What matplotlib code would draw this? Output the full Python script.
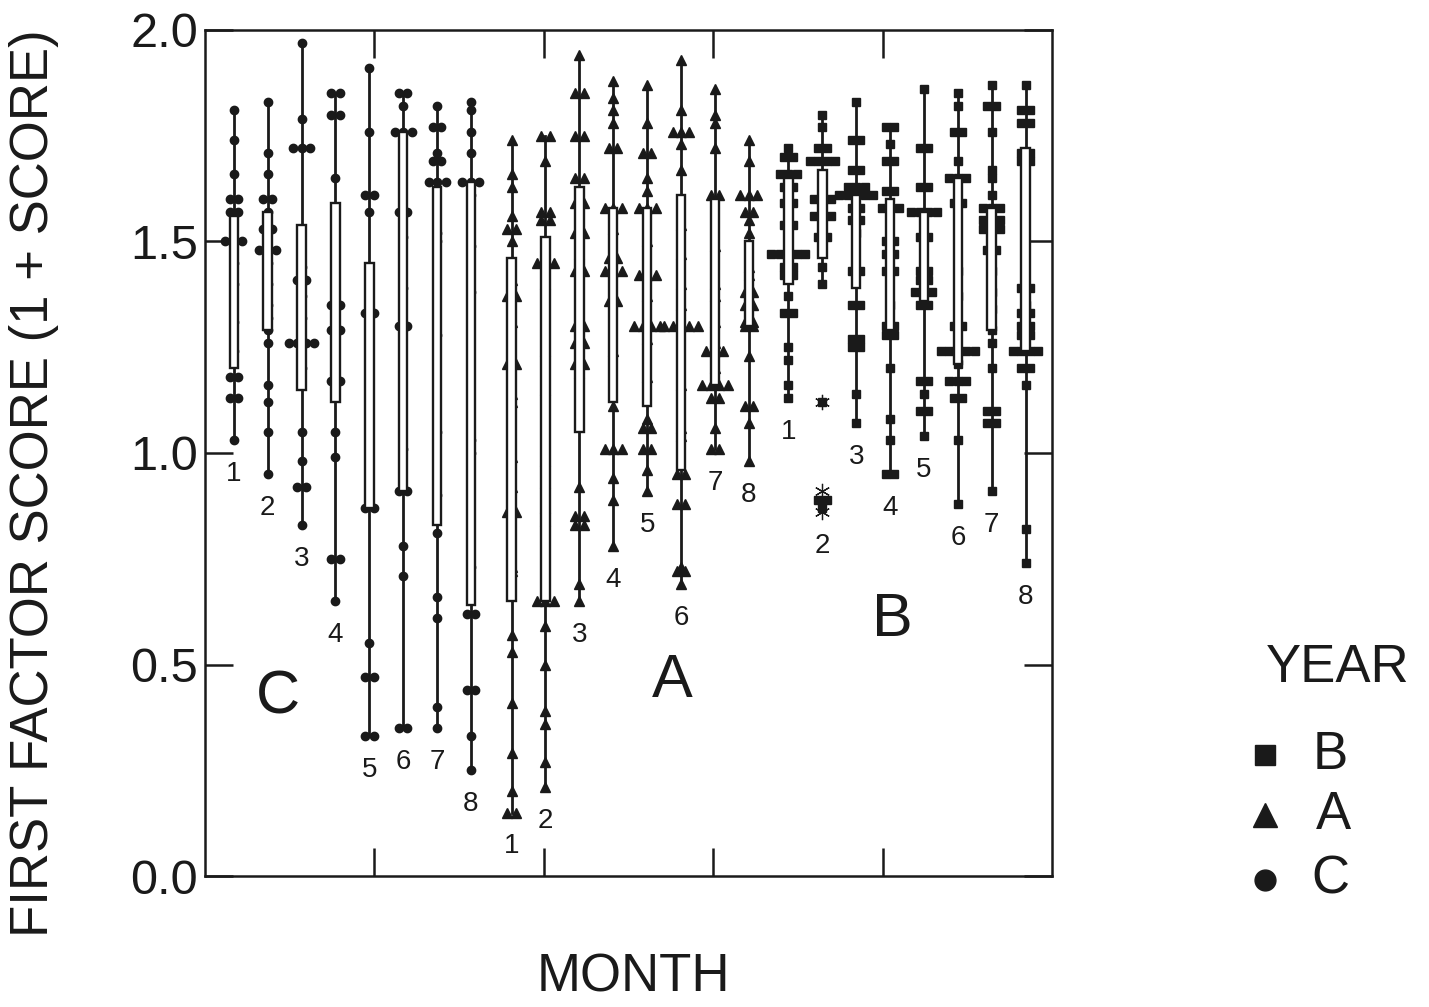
import numpy as np
import matplotlib
matplotlib.use('Agg')
import matplotlib.pyplot as plt
from matplotlib.lines import Line2D
from matplotlib.patches import Rectangle

plt.rcParams['font.family'] = ['Liberation Sans', 'DejaVu Sans']

# ---- data: first factor score (1 + score) per month, repeated values = side-by-side points ----
months = [1, 2, 3, 4, 5, 6, 7, 8]
years = ['C', 'A', 'B']

c_values = [
    [1.81, 1.74, 1.66, 1.60, 1.60, 1.57, 1.57, 1.50, 1.50, 1.50, 1.45, 1.40, 1.31, 1.24, 1.18, 1.18, 1.13, 1.13, 1.03],
    [1.83, 1.71, 1.66, 1.60, 1.60, 1.57, 1.53, 1.53, 1.48, 1.48, 1.48, 1.45, 1.40, 1.35, 1.32, 1.29, 1.26, 1.16, 1.12, 1.05, 0.95],
    [1.97, 1.79, 1.72, 1.72, 1.72, 1.44, 1.41, 1.41, 1.37, 1.32, 1.26, 1.26, 1.26, 1.26, 1.20, 1.05, 0.98, 0.92, 0.92, 0.83],
    [1.85, 1.85, 1.80, 1.80, 1.65, 1.50, 1.48, 1.35, 1.35, 1.29, 1.29, 1.25, 1.17, 1.17, 1.05, 0.99, 0.75, 0.75, 0.65],
    [1.91, 1.76, 1.61, 1.61, 1.57, 1.43, 1.40, 1.33, 1.33, 1.28, 1.20, 1.09, 1.06, 0.87, 0.87, 0.55, 0.47, 0.47, 0.33, 0.33],
    [1.85, 1.85, 1.82, 1.76, 1.76, 1.76, 1.57, 1.57, 1.51, 1.39, 1.30, 1.30, 1.01, 0.91, 0.91, 0.78, 0.71, 0.35, 0.35],
    [1.82, 1.77, 1.77, 1.71, 1.69, 1.69, 1.64, 1.64, 1.64, 1.52, 1.50, 1.28, 1.05, 0.90, 0.81, 0.66, 0.61, 0.40, 0.35],
    [1.83, 1.81, 1.76, 1.71, 1.64, 1.64, 1.64, 1.61, 1.49, 1.38, 1.03, 1.00, 0.73, 0.62, 0.62, 0.44, 0.44, 0.33, 0.25],
]
c_boxes = [(1.20, 1.56), (1.29, 1.57), (1.15, 1.54), (1.12, 1.59),
           (0.87, 1.45), (0.91, 1.76), (0.83, 1.63), (0.64, 1.64)]

a_values = [
    [1.74, 1.66, 1.63, 1.56, 1.53, 1.53, 1.50, 1.41, 1.37, 1.37, 1.31, 1.21, 1.21, 1.14, 1.12, 0.99, 0.92, 0.86, 0.86,
     0.73, 0.72, 0.57, 0.53, 0.41, 0.29, 0.20, 0.15, 0.15],
    [1.75, 1.75, 1.69, 1.57, 1.57, 1.55, 1.55, 1.45, 1.45, 1.45, 1.40, 1.24, 1.15, 0.98, 0.93, 0.87, 0.84, 0.65, 0.65,
     0.65, 0.59, 0.50, 0.39, 0.36, 0.27, 0.21],
    [1.94, 1.85, 1.85, 1.75, 1.75, 1.65, 1.65, 1.59, 1.59, 1.52, 1.52, 1.47, 1.43, 1.43, 1.32, 1.30, 1.30, 1.26, 1.26,
     1.21, 1.21, 1.19, 0.92, 0.85, 0.85, 0.83, 0.83, 0.69, 0.65],
    [1.88, 1.84, 1.81, 1.78, 1.72, 1.72, 1.58, 1.58, 1.58, 1.53, 1.46, 1.46, 1.43, 1.43, 1.43, 1.36, 1.36, 1.24, 1.11,
     1.01, 1.01, 1.01, 0.94, 0.89, 0.78],
    [1.87, 1.78, 1.71, 1.71, 1.65, 1.62, 1.58, 1.58, 1.58, 1.50, 1.42, 1.42, 1.42, 1.37, 1.30, 1.30, 1.30, 1.30, 1.27,
     1.18, 1.08, 1.06, 1.06, 1.01, 1.01, 0.96, 0.91],
    [1.93, 1.81, 1.76, 1.76, 1.76, 1.73, 1.67, 1.54, 1.47, 1.40, 1.35, 1.30, 1.30, 1.30, 1.30, 1.30, 1.16, 1.06, 1.04,
     0.95, 0.95, 0.88, 0.88, 0.73, 0.72, 0.72, 0.69],
    [1.86, 1.80, 1.78, 1.72, 1.61, 1.61, 1.49, 1.40, 1.37, 1.31, 1.26, 1.24, 1.24, 1.24, 1.20, 1.16, 1.16, 1.16, 1.16,
     1.13, 1.13, 1.06, 1.01, 1.01],
    [1.74, 1.69, 1.61, 1.61, 1.61, 1.57, 1.57, 1.55, 1.52, 1.44, 1.42, 1.38, 1.38, 1.35, 1.35, 1.31, 1.31, 1.30, 1.30,
     1.23, 1.11, 1.11, 1.07, 0.98],
]
a_boxes = [(0.65, 1.46), (0.65, 1.51), (1.05, 1.63), (1.12, 1.58),
           (1.11, 1.58), (0.96, 1.61), (1.16, 1.60), (1.30, 1.50)]

b_values = [
    [1.72, 1.70, 1.70, 1.66, 1.66, 1.66, 1.63, 1.63, 1.59, 1.59, 1.54, 1.54, 1.47, 1.47, 1.47, 1.47, 1.47, 1.44, 1.44,
     1.42, 1.42, 1.37, 1.33, 1.33, 1.25, 1.22, 1.16, 1.13],
    [1.80, 1.77, 1.72, 1.72, 1.69, 1.69, 1.69, 1.69, 1.60, 1.60, 1.60, 1.56, 1.56, 1.56, 1.51, 1.51, 1.44, 1.40],
    [1.83, 1.74, 1.74, 1.67, 1.67, 1.63, 1.63, 1.63, 1.61, 1.61, 1.61, 1.61, 1.61, 1.58, 1.58, 1.55, 1.55, 1.52, 1.43,
     1.43, 1.35, 1.35, 1.27, 1.27, 1.25, 1.25, 1.14, 1.07],
    [1.77, 1.77, 1.73, 1.69, 1.69, 1.62, 1.62, 1.58, 1.58, 1.58, 1.50, 1.50, 1.47, 1.47, 1.43, 1.43, 1.35, 1.30, 1.30,
     1.28, 1.28, 1.20, 1.08, 1.03, 0.95, 0.95],
    [1.86, 1.72, 1.72, 1.63, 1.63, 1.57, 1.57, 1.57, 1.57, 1.51, 1.51, 1.43, 1.43, 1.41, 1.41, 1.38, 1.38, 1.38, 1.35,
     1.35, 1.17, 1.17, 1.14, 1.10, 1.10, 1.04],
    [1.85, 1.82, 1.76, 1.76, 1.69, 1.65, 1.65, 1.65, 1.59, 1.59, 1.43, 1.37, 1.30, 1.30, 1.24, 1.24, 1.24, 1.24, 1.24,
     1.21, 1.17, 1.17, 1.17, 1.13, 1.13, 1.03, 0.88],
    [1.87, 1.82, 1.82, 1.76, 1.67, 1.65, 1.61, 1.58, 1.58, 1.58, 1.55, 1.55, 1.55, 1.53, 1.53, 1.53, 1.48, 1.48, 1.43,
     1.38, 1.34, 1.29, 1.26, 1.20, 1.10, 1.10, 1.07, 1.07, 0.91],
    [1.87, 1.81, 1.81, 1.78, 1.78, 1.71, 1.71, 1.69, 1.69, 1.39, 1.39, 1.35, 1.33, 1.33, 1.30, 1.30, 1.28, 1.28, 1.24,
     1.24, 1.24, 1.24, 1.20, 1.20, 1.16, 0.82, 0.74],
]
b_boxes = [(1.40, 1.65), (1.46, 1.67), (1.39, 1.61), (1.29, 1.60),
           (1.36, 1.57), (1.21, 1.65), (1.29, 1.58), (1.24, 1.72)]

# outliers of year B, month 2 (drawn unconnected, flagged with asterisks)
b2_outliers = [1.12, 0.89, 0.89, 0.87]
b2_stars = [1.12, 0.91, 0.86]

values = {'C': c_values, 'A': a_values, 'B': b_values}
boxes = {'C': c_boxes, 'A': a_boxes, 'B': b_boxes}
marker_of = {'C': 'o', 'A': '^', 'B': 's'}
group_start = {'C': 0.85, 'A': 9.05, 'B': 17.22}

INK = '#1a1a1a'
JIT = 0.25
BOXW = 0.25


def offsets(vals):
    # side-by-side positions for repeated values
    vals = np.asarray(vals)
    dx = np.zeros(len(vals))
    for v in np.unique(vals):
        idx = np.where(vals == v)[0]
        dx[idx] = (np.arange(len(idx)) - (len(idx) - 1) / 2) * JIT
    return dx


fig = plt.figure(figsize=(14.29, 10.07), dpi=100)
ax = fig.add_axes([205 / 1429, 131 / 1007, 847 / 1429, 846 / 1007])

for yr in years:
    for i, m in enumerate(months):
        x = group_start[yr] + i
        v = np.array(values[yr][i])
        ax.plot([x, x], [v.min(), v.max()], color=INK, lw=2.0, zorder=2)
        ax.plot(x + offsets(v), v, linestyle='none', marker=marker_of[yr],
                ms=6 if yr != 'A' else 6.5, color=INK, mec=INK, zorder=3)
        lo, hi = boxes[yr][i]
        ax.add_patch(Rectangle((x - BOXW / 2, lo), BOXW, hi - lo, facecolor='white',
                               edgecolor=INK, lw=1.7, zorder=4))
        low = v.min()
        if yr == 'B' and m == 2:
            ov = np.array(b2_outliers)
            ax.plot(x + offsets(ov), ov, linestyle='none', marker='s', ms=6,
                    color=INK, zorder=3)
            ax.plot([x] * len(b2_stars), b2_stars, linestyle='none', marker=(6, 2, 0),
                    ms=11, mew=0.9, color=INK, zorder=3)
            low = min(low, min(b2_stars))
        ax.text(x, low - 0.08, str(m), ha='center', va='center', fontsize=20, color=INK)

# group letters
ax.text(2.15, 0.42, 'C', ha='center', va='center', fontsize=44, color=INK)
ax.text(13.8, 0.46, 'A', ha='center', va='center', fontsize=44, color=INK)
ax.text(20.3, 0.605, 'B', ha='center', va='center', fontsize=44, color=INK)

ax.set_xlim(0, 25)
ax.set_ylim(0, 2.0)
ax.set_xticks([5, 10, 15, 20])
ax.set_xticklabels([])
ax.set_yticks([0, 0.5, 1.0, 1.5, 2.0])
ax.set_yticklabels(['0.0', '0.5', '1.0', '1.5', '2.0'])
ax.tick_params(axis='both', direction='in', length=20, width=1.8, top=True, right=True,
               labelsize=35, pad=5, colors=INK)
for s in ax.spines.values():
    s.set_linewidth(1.8)
    s.set_color(INK)

fig.text(34 / 1429, 1 - 483 / 1007, 'FIRST FACTOR SCORE (1 + SCORE)', rotation=90,
         ha='center', va='center', fontsize=38, color=INK)
fig.text(633 / 1429, 1 - 978 / 1007, 'MONTH', ha='center', va='center', fontsize=38, color=INK)

# legend
fig.text(1338 / 1429, 1 - 668 / 1007, 'YEAR', ha='center', va='center', fontsize=38, color=INK)
for yr, ypx, xpx in [('B', 755, 1330), ('A', 815, 1333), ('C', 880, 1330)]:
    fig.add_artist(Line2D([1265 / 1429], [1 - ypx / 1007], transform=fig.transFigure,
                          marker=marker_of[yr], ms=15 if yr != 'A' else 17, color=INK, linestyle='none'))
    fig.text(xpx / 1429, 1 - ypx / 1007, yr, ha='center', va='center', fontsize=38, color=INK)

fig.savefig('out.png', dpi=100, facecolor='white')
